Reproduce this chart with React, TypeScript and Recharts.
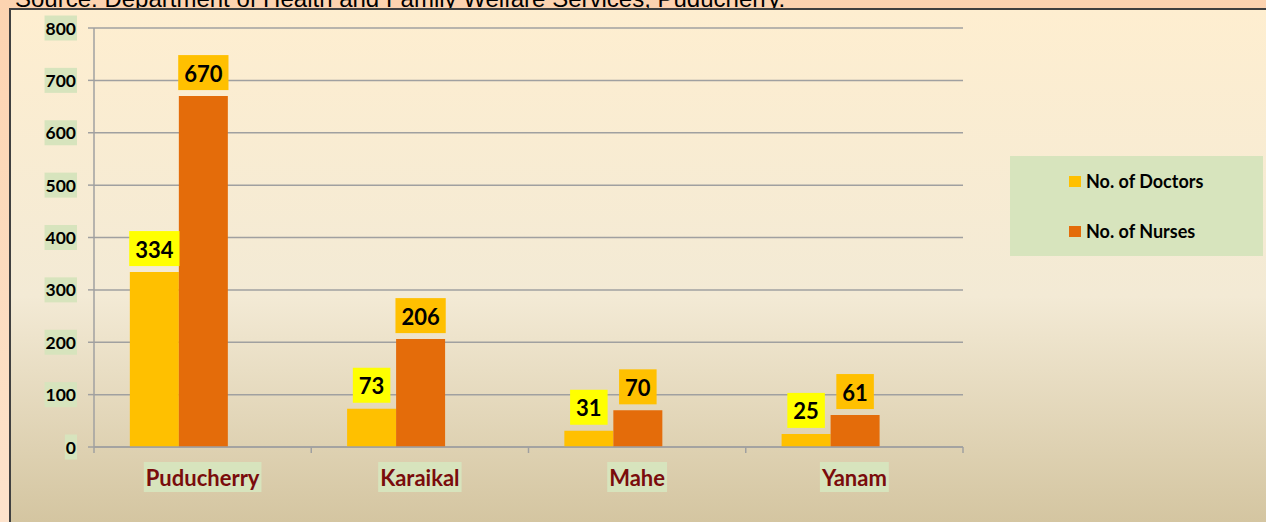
import { Bar, BarChart, CartesianGrid, LabelList, Legend, XAxis, YAxis } from "recharts";

const regions = ["Puducherry", "Karaikal", "Mahe", "Yanam"];
const doctors = [334, 73, 31, 25];
const nurses = [670, 206, 70, 61];
const yTicks = [0, 100, 200, 300, 400, 500, 600, 700, 800];

// the source chart keeps an empty third slot per category, so the two bars sit left of centre
const data = regions.map((region, i) => ({
  region,
  doctors: doctors[i],
  nurses: nurses[i],
  empty: null
}));

const FONT = "Lato, 'Open Sans', sans-serif";
const GREEN = "#D7E4BD";
const GRID = "#A0A0A0";

let canvas: HTMLCanvasElement | null = null;
function textWidth(text: string, font: string) {
  if (!canvas) canvas = document.createElement("canvas");
  const ctx = canvas.getContext("2d");
  if (!ctx) return text.length * 10;
  ctx.font = font;
  return ctx.measureText(text).width;
}

function YTick(props: any) {
  const { x, y, payload } = props;
  const label = String(payload.value);
  const w = textWidth(label, `bold 17.5px ${FONT}`) + 2;
  return (
    <g>
      <rect x={x - w + 1} y={y - 12.5} width={w} height={25} fill={GREEN} />
      <text x={x} y={y} textAnchor="end" dominantBaseline="central" fontFamily={FONT} fontWeight="bold" fontSize={17.5} fill="#000">
        {label}
      </text>
    </g>
  );
}

function XTick(props: any) {
  const { x, y, payload, index } = props;
  const half = payload.offset || 108.6;
  const axisY = y - 6;
  const label = String(payload.value);
  const w = textWidth(label, `bold 22px ${FONT}`) + 4;
  return (
    <g>
      <line x1={x - half} x2={x - half} y1={axisY} y2={axisY + 6} stroke={GRID} strokeWidth={1.5} />
      {index === regions.length - 1 && (
        <line x1={x + half} x2={x + half} y1={axisY} y2={axisY + 6} stroke={GRID} strokeWidth={1.5} />
      )}
      <rect x={x - w / 2} y={axisY + 15} width={w} height={30} fill={GREEN} />
      <text x={x} y={axisY + 30} textAnchor="middle" dominantBaseline="central" fontFamily={FONT} fontWeight="bold" fontSize={22} fill="#7A0C0C">
        {label}
      </text>
    </g>
  );
}

function makeLabel(bg: string) {
  return (props: any) => {
    const { x, y, width, value } = props;
    if (value == null) return null;
    const label = String(value);
    const w = textWidth(label, `bold 22px ${FONT}`) + 12;
    const cx = x + width / 2;
    const bottom = y - 6;
    return (
      <g>
        <rect x={cx - w / 2} y={bottom - 35} width={w} height={35} fill={bg} />
        <text x={cx} y={bottom - 17} textAnchor="middle" dominantBaseline="central" fontFamily={FONT} fontWeight="bold" fontSize={22} fill="#000">
          {label}
        </text>
      </g>
    );
  };
}

function LegendBox(props: any) {
  const items = (props.payload || []).filter((it: any) => it.value !== "empty" && it.type !== "none");
  return (
    <div style={{ width: 253, height: 100, background: GREEN, position: "relative", fontFamily: FONT }}>
      {items.map((it: any, i: number) => (
        <div
          key={it.value}
          style={{ position: "absolute", left: 59, top: 25 + i * 50 - 11, height: 22, display: "flex", alignItems: "center" }}
        >
          <span style={{ width: 12, height: 11, background: it.color, display: "inline-block", marginRight: 5 }} />
          <span style={{ fontWeight: "bold", fontSize: 18, color: "#000", whiteSpace: "nowrap" }}>{it.value}</span>
        </div>
      ))}
    </div>
  );
}

export default function App() {
  return (
    <div style={{ position: "absolute", left: 0, top: 0, width: 1266, height: 522, overflow: "hidden", background: "linear-gradient(#FCD3B0, #FDE3CC)" }}>
      <svg width={1266} height={10} style={{ position: "absolute", left: 0, top: 0 }}>
        <text x={15} y={7} fontFamily="'Liberation Sans', Arial, sans-serif" fontSize={24} fill="#000">
          Source: Department of Health and Family Welfare Services, Puducherry.
        </text>
      </svg>
      <div
        style={{
          position: "absolute",
          left: 9,
          top: 8,
          width: 1270,
          height: 520,
          borderLeft: "2px solid #404040",
          borderTop: "2px solid #404040",
          background: "linear-gradient(#FEEED0 0%, #F3EAD5 55%, #D3C49F 100%)"
        }}
      />
      <div style={{ position: "absolute", left: 0, top: 0 }}>
        <BarChart
          width={1266}
          height={522}
          data={data}
          margin={{ top: 28, right: 303, bottom: 30, left: 0 }}
          barCategoryGap="16.5%"
          barGap={0}
        >
          <CartesianGrid vertical={false} stroke={GRID} strokeWidth={1.5} />
          <XAxis
            dataKey="region"
            height={45}
            stroke={GRID}
            strokeWidth={1.5}
            tickLine={false}
            tickSize={6}
            tickMargin={0}
            tick={<XTick />}
            interval={0}
          />
          <YAxis
            width={94}
            domain={[0, 800]}
            ticks={yTicks}
            stroke={GRID}
            strokeWidth={1.5}
            tickSize={6}
            tickMargin={12}
            tick={<YTick />}
            interval={0}
          />
          <Legend
            layout="vertical"
            align="center"
            verticalAlign="middle"
            wrapperStyle={{ left: 1010, top: 156, width: 253, height: 100 }}
            content={<LegendBox />}
          />
          <Bar dataKey="doctors" name="No. of Doctors" fill="#FFC000" isAnimationActive={false}>
            <LabelList dataKey="doctors" content={makeLabel("#FFFF00")} />
          </Bar>
          <Bar dataKey="nurses" name="No. of Nurses" fill="#E46C0A" isAnimationActive={false}>
            <LabelList dataKey="nurses" content={makeLabel("#FFC000")} />
          </Bar>
          <Bar dataKey="empty" name="empty" legendType="none" fill="transparent" isAnimationActive={false} />
        </BarChart>
      </div>
    </div>
  );
}
